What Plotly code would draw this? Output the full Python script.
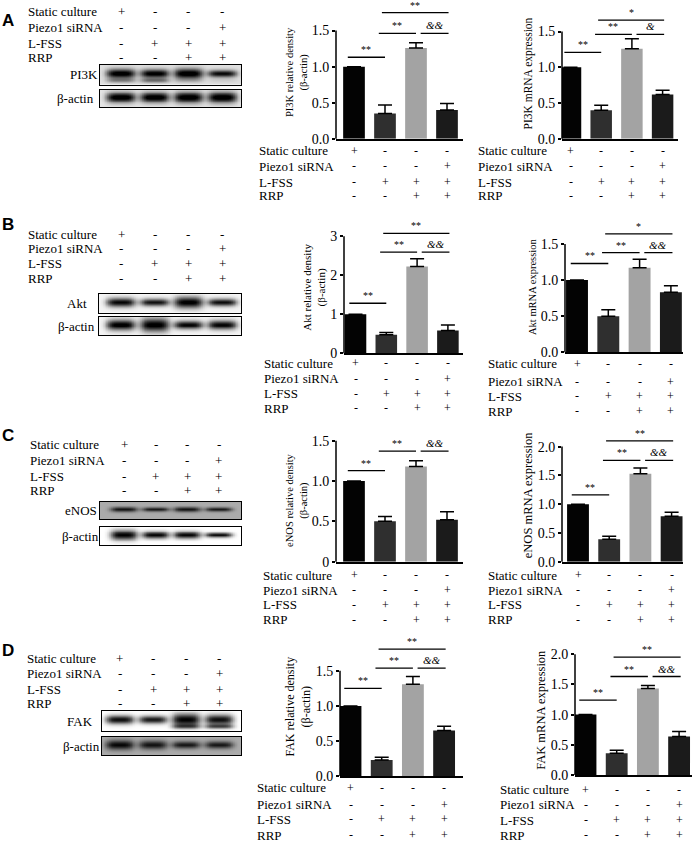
import numpy as np
import plotly.graph_objects as go

W, H = 696, 849
SERIF = "Liberation Serif"
SANS = "Liberation Sans"

# ---------------- data ----------------
treatments = ["Static culture", "Piezo1 siRNA", "L-FSS", "RRP"]
treatment_signs = [
    ["+", "-", "-", "-"],
    ["-", "-", "-", "+"],
    ["-", "+", "+", "+"],
    ["-", "-", "+", "+"],
]
bar_positions = [0, 1, 2, 3]
bar_colors = ["#030303", "#2f2f2f", "#a3a3a3", "#1b1b1b"]

pi3k_density = [1.00, 0.35, 1.26, 0.40]
pi3k_density_err = [0.00, 0.12, 0.07, 0.09]
pi3k_mrna = [1.00, 0.40, 1.26, 0.62]
pi3k_mrna_err = [0.00, 0.07, 0.14, 0.06]
akt_density = [1.00, 0.47, 2.22, 0.58]
akt_density_err = [0.00, 0.06, 0.20, 0.14]
akt_mrna = [1.00, 0.50, 1.17, 0.83]
akt_mrna_err = [0.00, 0.09, 0.12, 0.09]
enos_density = [1.00, 0.50, 1.18, 0.52]
enos_density_err = [0.00, 0.06, 0.07, 0.10]
enos_mrna = [1.00, 0.39, 1.53, 0.79]
enos_mrna_err = [0.00, 0.05, 0.10, 0.07]
fak_density = [1.00, 0.23, 1.31, 0.65]
fak_density_err = [0.00, 0.04, 0.11, 0.06]
fak_mrna = [1.00, 0.36, 1.43, 0.64]
fak_mrna_err = [0.00, 0.05, 0.05, 0.08]

# significance comparisons (bar pairs) with labels and bracket heights (data units)
comparison_pairs = [(0, 1), (1, 2), (2, 3), (1, 3)]
pi3k_density_sig = ["**", "**", "&&", "**"]
pi3k_density_sig_h = [1.13, 1.46, 1.46, 1.75]
pi3k_mrna_sig = ["**", "**", "&", "*"]
pi3k_mrna_sig_h = [1.21, 1.46, 1.46, 1.66]
akt_density_sig = ["**", "**", "&&", "**"]
akt_density_sig_h = [1.28, 2.59, 2.59, 3.07]
akt_mrna_sig = ["**", "**", "&&", "*"]
akt_mrna_sig_h = [1.23, 1.38, 1.38, 1.64]
enos_density_sig = ["**", "**", "&&"]
enos_density_sig_h = [1.13, 1.37, 1.37]
enos_mrna_sig = ["**", "**", "&&", "**"]
enos_mrna_sig_h = [1.16, 1.76, 1.76, 2.10]
fak_density_sig = ["**", "**", "&&", "**"]
fak_density_sig_h = [1.25, 1.54, 1.54, 1.81]
fak_mrna_sig = ["**", "**", "&&", "**"]
fak_mrna_sig_h = [1.24, 1.63, 1.63, 1.95]

ticks_15 = [0, 0.5, 1.0, 1.5]
ticks_15_text = ["0.0", "0.5", "1.0", "1.5"]
ticks_15_text0 = ["0", "0.5", "1.0", "1.5"]
ticks_20 = [0, 0.5, 1.0, 1.5, 2.0]
ticks_20_text = ["0.0", "0.5", "1.0", "1.5", "2.0"]
ticks_3 = [0, 1, 2, 3]
ticks_3_text = ["0", "1", "2", "3"]

# western blot band intensities (0..1 darkness) and band thickness per lane
pi3k_band = [0.95, 0.92, 0.97, 0.85]
pi3k_band_thick = [0.24, 0.22, 0.26, 0.18]
pi3k_lower_band = [0.30, 0.40, 0.12, 0.06]
pi3k_actin_band = [1.0, 1.0, 1.0, 1.0]
pi3k_actin_thick = [0.28, 0.28, 0.30, 0.30]
akt_band = [0.95, 0.9, 1.0, 0.92]
akt_band_thick = [0.24, 0.2, 0.3, 0.2]
akt_actin_band = [1.0, 1.0, 0.95, 0.95]
akt_actin_thick = [0.28, 0.36, 0.22, 0.24]
enos_band = [0.6, 0.58, 0.6, 0.58]
enos_band_thick = [0.14, 0.12, 0.14, 0.12]
enos_actin_band = [1.0, 0.98, 0.98, 0.95]
enos_actin_thick = [0.28, 0.2, 0.2, 0.14]
fak_band = [0.95, 0.9, 1.0, 0.95]
fak_band_thick = [0.22, 0.2, 0.32, 0.26]
fak_lower_band = [0.0, 0.0, 0.5, 0.6]
fak_actin_band = [0.65, 0.6, 0.58, 0.58]
fak_actin_thick = [0.26, 0.24, 0.2, 0.2]

# ---------------- helpers ----------------
def px(x):
    return x / W


def py(y):
    return 1 - y / H


def names(n):
    s = "" if n == 1 else str(n)
    return "x" + s, "y" + s, "xaxis" + s, "yaxis" + s


fig = go.Figure()
layout = {}
shapes = []
annots = []
axis_counter = [0]


def new_axes():
    axis_counter[0] += 1
    return names(axis_counter[0])


def bar_chart(vals, err, title, sig, sig_h, tickvals, ticktext, g, tfont,
              table_y, label_x):
    xr_, yr_, xk, yk = new_axes()
    scale = (g["p0"] - g["ptop"]) / tickvals[-1]
    top_line_px = g["p0"] - max(sig_h) * scale
    domtop = max(0, min(g["ptop"], top_line_px - 12))
    rtop = (g["p0"] - domtop) / scale
    xrange = [(g["xl"] - g["c0"]) / g["s"], (g["xr"] - g["c0"]) / g["s"]]
    layout[xk] = dict(domain=[px(g["xl"]), px(g["xr"])], range=xrange,
                      anchor=yr_, showline=True, linecolor="black",
                      linewidth=1.5, ticks="", showticklabels=False,
                      showgrid=False, zeroline=False, fixedrange=True)
    layout[yk] = dict(domain=[py(g["p0"]), py(domtop)], range=[0, rtop],
                      anchor=xr_, showline=False, tickvals=tickvals,
                      ticktext=ticktext, ticks="outside", ticklen=3,
                      tickwidth=1.5, tickcolor="black",
                      tickfont=dict(family=SERIF, size=14, color="black"),
                      showgrid=False, zeroline=False, fixedrange=True,
                      title=dict(text=title, standoff=2,
                                 font=dict(family=SERIF, size=tfont,
                                           color="black")))
    fig.add_trace(go.Bar(
        x=bar_positions, y=vals, width=0.7, xaxis=xr_, yaxis=yr_,
        marker=dict(color=bar_colors, line=dict(width=0)),
        error_y=dict(type="data", array=err, arrayminus=[0] * len(err),
                     symmetric=False, color="black", thickness=1.5, width=7),
        showlegend=False, hoverinfo="skip"))
    # y axis line up to the top tick
    shapes.append(dict(type="line", xref=xr_ + " domain", yref=yr_ + " domain",
                       x0=0, x1=0, y0=0, y1=tickvals[-1] / rtop,
                       line=dict(color="black", width=1.5)))
    offs = [(-0.2, 0.0), (-0.2, 0.0), (0.15, 0.05), (-0.1, 0.05)]
    for k, (lab, h) in enumerate(zip(sig, sig_h)):
        a, b = comparison_pairs[k]
        x0, x1 = a + offs[k][0], b + offs[k][1]
        shapes.append(dict(type="line", xref=xr_, yref=yr_, x0=x0, x1=x1,
                           y0=h, y1=h, line=dict(color="black", width=1.3)))
        is_amp = "&" in lab
        annots.append(dict(xref=xr_, yref=yr_, x=(x0 + x1) / 2, y=h,
                           text=("<i>%s</i>" % lab) if is_amp else lab,
                           showarrow=False, yanchor="bottom", yshift=0,
                           font=dict(family=SERIF, size=11 if is_amp else 10,
                                     color="black")))
    for r, (lab, ty) in enumerate(zip(treatments, table_y)):
        annots.append(dict(xref="paper", yref="paper", x=px(label_x),
                           y=py(ty), text=lab, showarrow=False,
                           xanchor="left", yanchor="middle",
                           font=dict(family=SERIF, size=13, color="black")))
        for i in bar_positions:
            annots.append(dict(xref=xr_, yref="paper", x=i, y=py(ty),
                               text=treatment_signs[r][i], showarrow=False,
                               xanchor="center", yanchor="middle",
                               font=dict(family=SERIF, size=12,
                                         color="black")))


def blot_z(x, y, amps, thick, bg, lower=None):
    z = np.full((len(y), len(x)), bg, dtype=float)
    for lane, (a, t) in enumerate(zip(amps, thick)):
        hx = np.exp(-np.abs((x - lane) / 0.43) ** 4)
        z += a * np.outer(np.exp(-((y - 0.55) / t) ** 2), hx)
        if lower is not None and lower[lane] > 0:
            z += lower[lane] * np.outer(np.exp(-((y - 0.2) / 0.12) ** 2), hx)
    return np.clip(z, 0, 1)


def blot(amps, thick, bg, label, label_x, box, c0, s, lower=None):
    xr_, yr_, xk, yk = new_axes()
    x0 = (box[0] - c0) / s
    x1 = (box[1] - c0) / s
    xs = np.linspace(x0, x1, 220)
    ys = np.linspace(0, 1, 40)
    z = blot_z(xs, ys, amps, thick, bg, lower)
    fig.add_trace(go.Heatmap(x=xs, y=ys, z=z, xaxis=xr_, yaxis=yr_,
                             colorscale=[[0, "#ffffff"], [1, "#000000"]],
                             zmin=0, zmax=1, showscale=False,
                             hoverinfo="skip"))
    common = dict(showline=True, mirror=True, linecolor="black", linewidth=1.2,
                  ticks="", showticklabels=False, showgrid=False,
                  zeroline=False, fixedrange=True)
    layout[xk] = dict(domain=[px(box[0]), px(box[1])], range=[x0, x1],
                      anchor=yr_, **common)
    layout[yk] = dict(domain=[py(box[3]), py(box[2])], range=[0, 1],
                      anchor=xr_, **common)
    annots.append(dict(xref="paper", yref="paper", x=px(label_x),
                       y=py((box[2] + box[3]) / 2), text=label,
                       showarrow=False, xanchor="center", yanchor="middle",
                       font=dict(family=SERIF, size=13, color="black")))
    return xr_


def blot_panel(letter, letter_y, head_x, head_y, c0, s, prot, actin):
    annots.append(dict(xref="paper", yref="paper", x=px(0), y=py(letter_y),
                       text="<b>%s</b>" % letter, showarrow=False,
                       xanchor="left", yanchor="middle",
                       font=dict(family=SANS, size=17, color="black")))
    xr_ = blot(c0=c0, s=s, **prot)
    blot(c0=c0, s=s, **actin)
    for r, (lab, ty) in enumerate(zip(treatments, head_y)):
        annots.append(dict(xref="paper", yref="paper", x=px(head_x),
                           y=py(ty), text=lab, showarrow=False,
                           xanchor="left", yanchor="middle",
                           font=dict(family=SERIF, size=13, color="black")))
        for i in bar_positions:
            annots.append(dict(xref=xr_, yref="paper", x=i, y=py(ty),
                               text=treatment_signs[r][i], showarrow=False,
                               xanchor="center", yanchor="middle",
                               font=dict(family=SERIF, size=13,
                                         color="black")))


# ---------------- row A ----------------
blot_panel("A", 15, 26, [6, 22, 38, 52], 121, 33.7,
           dict(amps=pi3k_band, thick=pi3k_band_thick, bg=0.12, label="PI3K",
                label_x=84, box=(100, 241, 60, 80), lower=pi3k_lower_band),
           dict(amps=pi3k_actin_band, thick=pi3k_actin_thick, bg=0.1,
                label="β-actin", label_x=75, box=(100, 241, 85, 103)))
bar_chart(pi3k_density, pi3k_density_err, "PI3K relative density<br>(β-actin)",
          pi3k_density_sig, pi3k_density_sig_h, ticks_15, ticks_15_text,
          dict(xl=336, xr=463, c0=354, s=31, p0=135, ptop=25), 10.5,
          [147, 163, 179, 193], 257)
bar_chart(pi3k_mrna, pi3k_mrna_err, "PI3K mRNA expression",
          pi3k_mrna_sig, pi3k_mrna_sig_h, ticks_15, ticks_15_text,
          dict(xl=562, xr=678, c0=570.5, s=30.7, p0=135, ptop=26), 11.5,
          [147, 163, 179, 193], 476)

# ---------------- row B ----------------
blot_panel("B", 222, 26, [232, 247, 262, 277], 121, 33.7,
           dict(amps=akt_band, thick=akt_band_thick, bg=0.04, label="Akt",
                label_x=77, box=(99, 241, 293, 312)),
           dict(amps=akt_actin_band, thick=akt_actin_thick, bg=0.04,
                label="β-actin", label_x=76, box=(99, 241, 316, 335)))
bar_chart(akt_density, akt_density_err, "Akt relative density<br>(β-actin)",
          akt_density_sig, akt_density_sig_h, ticks_3, ticks_3_text,
          dict(xl=344, xr=463, c0=355.5, s=30.8, p0=353, ptop=234), 11,
          [363, 379, 394, 409], 262)
bar_chart(akt_mrna, akt_mrna_err, "Akt mRNA expression",
          akt_mrna_sig, akt_mrna_sig_h, ticks_15, ticks_15_text,
          dict(xl=565, xr=683, c0=577, s=31.3, p0=352, ptop=242), 10.5,
          [364, 382, 397, 412], 486)

# ---------------- row C ----------------
blot_panel("C", 437, 28, [446, 462, 478, 493], 124, 31.5,
           dict(amps=enos_band, thick=enos_band_thick, bg=0.33, label="eNOS",
                label_x=81, box=(100, 241, 504, 522)),
           dict(amps=enos_actin_band, thick=enos_actin_thick, bg=0.0,
                label="β-actin", label_x=80, box=(100, 241, 530, 548)))
bar_chart(enos_density, enos_density_err, "eNOS relative density<br>(β-actin)",
          enos_density_sig, enos_density_sig_h, ticks_15, ticks_15_text0,
          dict(xl=336, xr=463, c0=354, s=31, p0=565, ptop=442), 10.5,
          [579, 594, 609, 624], 261)
bar_chart(enos_mrna, enos_mrna_err, "eNOS mRNA expression",
          enos_mrna_sig, enos_mrna_sig_h, ticks_20, ticks_20_text,
          dict(xl=562, xr=683, c0=578, s=31.2, p0=565, ptop=448), 12.5,
          [579, 594, 609, 624], 486)

# ---------------- row D ----------------
blot_panel("D", 655, 25, [663, 679, 695, 709], 120, 33,
           dict(amps=fak_band, thick=fak_band_thick, bg=0.0, label="FAK",
                label_x=80, box=(102, 241, 717, 737), lower=fak_lower_band),
           dict(amps=fak_actin_band, thick=fak_actin_thick, bg=0.33,
                label="β-actin", label_x=81, box=(102, 241, 743, 762)))
bar_chart(fak_density, fak_density_err, "FAK relative density<br>(β-actin)",
          fak_density_sig, fak_density_sig_h, ticks_15, ticks_15_text,
          dict(xl=340, xr=463, c0=350.5, s=31.2, p0=783, ptop=676), 12,
          [795, 812, 827, 843], 255)
bar_chart(fak_mrna, fak_mrna_err, "FAK mRNA expression",
          fak_mrna_sig, fak_mrna_sig_h, ticks_20, ticks_20_text,
          dict(xl=575, xr=692, c0=585.5, s=31.2, p0=782, ptop=659), 12.5,
          [797, 812, 828, 843], 498)

fig.update_layout(
    width=W, height=H, margin=dict(l=0, r=0, t=0, b=0),
    paper_bgcolor="white", plot_bgcolor="rgba(0,0,0,0)",
    showlegend=False, shapes=shapes, annotations=annots,
    font=dict(family=SERIF, color="black"),
    **layout)

fig.write_html(
    "out.html",
    config={"displayModeBar": False},
    post_script="document.body.style.margin='0';"
                "document.body.style.overflow='hidden';")
